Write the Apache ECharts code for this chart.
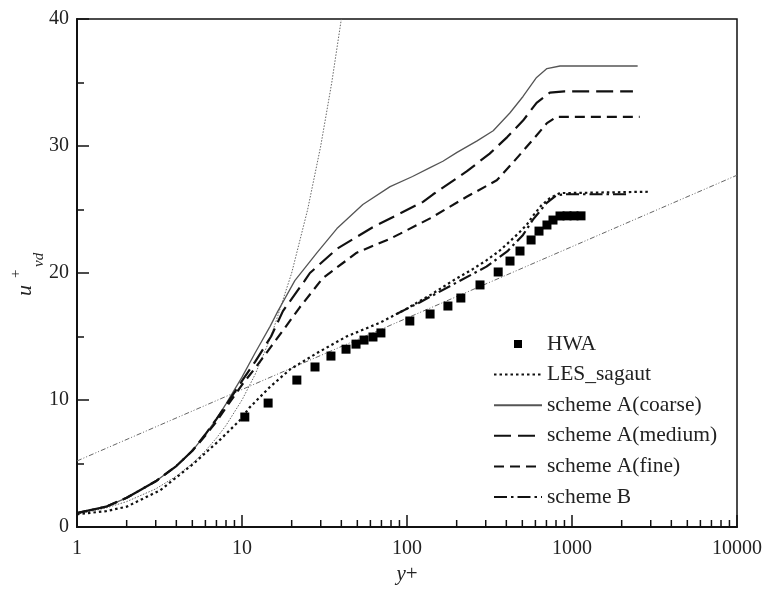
<!DOCTYPE html>
<html><head><meta charset="utf-8">
<script src="https://cdn.jsdelivr.net/npm/echarts@6/dist/echarts.min.js"></script>
<style>html,body{margin:0;padding:0;background:#fff}#c{width:765px;height:590px}</style>
</head><body><div id="c"></div>
<script>
// ---- data ----
const hwaX = [10.4, 14.4, 21.5, 27.7, 34.6, 42.7, 49.1, 54.9, 62.2, 69.5, 104, 138, 177, 212, 277, 357, 421, 484, 565, 631, 705, 767, 846, 933, 1028, 1134];
const hwaY = [8.66, 9.76, 11.57, 12.6, 13.46, 14.0, 14.4, 14.72, 14.96, 15.28, 16.22, 16.77, 17.4, 18.03, 19.06, 20.08, 20.94, 21.73, 22.6, 23.3, 23.78, 24.17, 24.49, 24.5, 24.5, 24.5];

const lesX = [1, 1.5, 2, 3.2, 5.1, 7.4, 9.7, 11.1, 14.7, 19.5, 28.5, 43, 69, 100, 140, 190, 250, 303, 360, 421, 480, 532, 580, 650, 735, 846, 1000, 2960];
const lesY = [1.0, 1.25, 1.6, 2.9, 5.0, 6.9, 8.4, 9.4, 11.0, 12.4, 13.7, 15.0, 16.1, 17.2, 18.3, 19.4, 20.3, 21.0, 21.7, 22.5, 23.2, 23.8, 24.5, 25.3, 25.9, 26.3, 26.3, 26.4];

const coarseX = [1, 1.5, 2, 3, 4, 5, 6, 7, 8, 10, 12, 14.8, 16.5, 20.9, 28.5, 37.6, 54, 79, 108, 138, 165, 201, 266, 333, 420, 505, 610, 705, 846, 2500];
const coarseY = [1.1, 1.6, 2.3, 3.6, 4.8, 6.0, 7.3, 8.5, 9.7, 11.8, 13.7, 15.8, 17.0, 19.4, 21.6, 23.5, 25.4, 26.8, 27.6, 28.3, 28.8, 29.5, 30.4, 31.2, 32.6, 33.9, 35.4, 36.1, 36.3, 36.3];

const mediumX = [1, 1.5, 2, 3, 4, 5, 6, 7, 8, 10, 12, 15, 17.7, 24, 25.8, 37.6, 62, 91, 125, 144, 230, 317, 405, 505, 610, 735, 900, 1500, 2340];
const mediumY = [1.1, 1.6, 2.3, 3.6, 4.8, 6.0, 7.3, 8.5, 9.6, 11.5, 13.0, 15.0, 17.0, 19.4, 20.0, 21.9, 23.6, 24.7, 25.6, 26.2, 28.0, 29.4, 30.7, 32.0, 33.4, 34.2, 34.3, 34.3, 34.3];

const fineX = [1, 1.5, 2, 3, 4, 5, 6, 7, 8, 10, 12, 15, 18, 22.4, 30.9, 49.6, 79, 91, 138, 230, 350, 439, 580, 705, 805, 2570];
const fineY = [1.1, 1.6, 2.3, 3.6, 4.8, 6.0, 7.2, 8.3, 9.4, 11.2, 12.5, 14.2, 15.6, 17.3, 19.6, 21.6, 22.7, 23.1, 24.3, 26.0, 27.3, 28.7, 30.5, 31.8, 32.3, 32.3];

const schemeBX = [87, 120, 190, 303, 405, 505, 580, 700, 800, 900, 2240];
const schemeBY = [16.8, 17.7, 19.1, 20.5, 21.7, 23.0, 24.2, 25.5, 26.1, 26.2, 26.2];

// reference lines: log law and viscous sublayer
const logLawX = [1, 10000];
const logLawY = [5.2, 27.7];
const viscX = [1, 1.5, 2, 3, 4, 5, 6, 7, 8, 10, 12, 15, 20, 25, 30, 35, 40];
const viscY = [1, 1.5, 2, 3, 4, 5, 6, 7, 8, 10, 12, 15, 20, 25, 30, 35, 40];

const minorTickValues = [2,3,4,5,6,7,8,9,20,30,40,50,60,70,80,90,200,300,400,500,600,700,800,900,2000,3000,4000,5000,6000,7000,8000,9000];

const seriesNames = ['HWA', 'LES_sagaut', 'scheme A(coarse)', 'scheme A(medium)', 'scheme A(fine)', 'scheme B'];

const zip = (xs, ys) => xs.map((x, i) => [x, ys[i]]);
const FONT = '"Liberation Serif", "Times New Roman", serif';

const chart = echarts.init(document.getElementById('c'), null, {renderer: 'canvas'});
const lineSeries = (name, xs, ys, style, z) => ({
  name, type: 'line', data: zip(xs, ys), symbol: 'none', smooth: false, color: style.color,
  itemStyle: {color: style.color},
  lineStyle: style, z: z || 3, silent: true
});

chart.setOption({
  animation: false,
  backgroundColor: '#fff',
  grid: {left: 77, right: 28, top: 19, bottom: 63, show: true, borderColor: '#111', borderWidth: 1.5, backgroundColor: 'transparent'},
  xAxis: {
    type: 'log', logBase: 10, min: 1, max: 10000,
    axisLine: {show: true, lineStyle: {color: '#111', width: 2}},
    axisTick: {show: true, inside: true, length: 12, lineStyle: {color: '#111', width: 1.5}},
    minorTick: {show: false},
    splitLine: {show: false},
    axisLabel: {fontFamily: FONT, fontSize: 20, color: '#222', margin: 12, formatter: v => String(v)},
    name: '{i|y}+', nameLocation: 'middle', nameGap: 36,
    nameTextStyle: {fontFamily: FONT, fontSize: 21, color: '#222', rich: {i: {fontFamily: FONT, fontSize: 21, fontStyle: 'italic', color: '#222'}}}
  },
  yAxis: {
    type: 'value', min: 0, max: 40, interval: 10,
    axisLine: {show: true, lineStyle: {color: '#111', width: 2}},
    axisTick: {show: true, inside: true, length: 12, lineStyle: {color: '#111', width: 1.5}},
    minorTick: {show: true, splitNumber: 2, length: 7, lineStyle: {color: '#111', width: 1.5}},
    splitLine: {show: false},
    axisLabel: {fontFamily: FONT, fontSize: 20, color: '#222', margin: 8}
  },
  legend: {
    orient: 'vertical', left: 488, top: 328,
    itemWidth: 48, itemHeight: 20, itemGap: 8.6,
    itemStyle: {opacity: 0},
    data: [
      {name: 'HWA', icon: 'path://M0,0M48,0M48,20M0,20M20,6h8v8h-8z', itemStyle: {color: '#000', opacity: 1}},
      'LES_sagaut', 'scheme A(coarse)', 'scheme A(medium)', 'scheme A(fine)', 'scheme B'
    ],
    textStyle: {fontFamily: FONT, fontSize: 21.5, color: '#222'},
    selectedMode: false
  },
  graphic: [{
    type: 'group', x: 36, y: 296, rotation: Math.PI / 2,
    children: [
      {type: 'text', x: 0, y: 0, style: {text: 'u', font: 'italic 22px ' + FONT, fill: '#222', verticalAlign: 'bottom'}},
      {type: 'text', x: 18, y: -12, style: {text: '+', font: '15px ' + FONT, fill: '#222', verticalAlign: 'bottom'}},
      {type: 'text', x: 29, y: 11, style: {text: 'vd', font: 'italic 15px ' + FONT, fill: '#222', verticalAlign: 'bottom'}}
    ]
  }],
  series: [
    lineSeries('logLaw', logLawX, logLawY, {color: '#666', width: 1, type: [5, 2, 1, 2, 1, 2]}, 2),
    lineSeries('viscous', viscX, viscY, {color: '#666', width: 1, type: [1.5, 1.5]}, 2),
    {
      name: 'HWA', type: 'scatter', data: zip(hwaX, hwaY), symbol: 'rect', symbolSize: 9,
      itemStyle: {color: '#000', opacity: 1}, z: 5, silent: true
    },
    lineSeries('LES_sagaut', lesX, lesY, {color: '#111', width: 2.2, type: [2.5, 3]}, 4),
    lineSeries('scheme A(coarse)', coarseX, coarseY, {color: '#555', width: 1.3, type: 'solid'}),
    lineSeries('scheme A(medium)', mediumX, mediumY, {color: '#111', width: 2.2, type: [17, 7]}),
    lineSeries('scheme A(fine)', fineX, fineY, {color: '#111', width: 2.2, type: [10, 6]}),
    lineSeries('scheme B', schemeBX, schemeBY, {color: '#111', width: 2.2, type: [13, 4, 2.5, 4]}),
    {
      type: 'custom', name: 'minorTicks', silent: true, clip: false, z: 6,
      data: minorTickValues.map(v => [v, 0]),
      renderItem: (params, api) => {
        const p = api.coord([api.value(0), 0]);
        return {type: 'line', shape: {x1: p[0], y1: p[1], x2: p[0], y2: p[1] - 7}, style: {stroke: '#111', lineWidth: 1.5}};
      }
    }
  ]
});
</script></body></html>
